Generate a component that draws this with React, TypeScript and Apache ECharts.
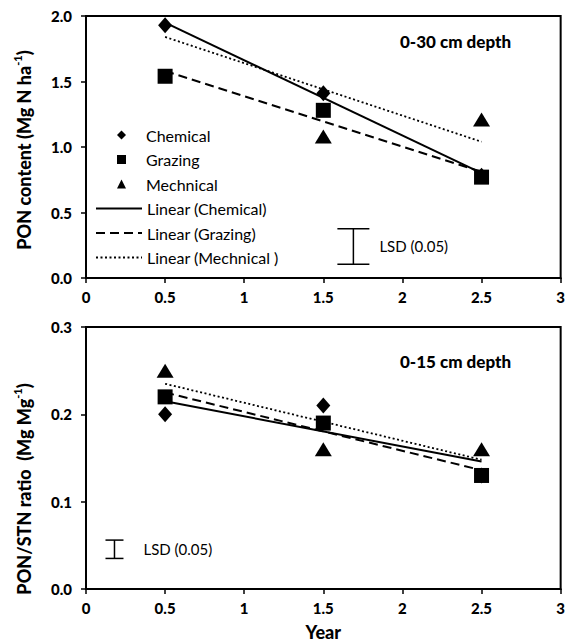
import React, { useEffect, useRef } from "react";
import * as echarts from "echarts";

// ---- data ----
const years = [0.5, 1.5, 2.5];
const trendYears = [0.5, 2.5];

// Top panel: PON content (Mg N ha-1), 0-30 cm depth
const ponChemical = [1.93, 1.41, 0.78];
const ponGrazing = [1.54, 1.28, 0.77];
const ponMechnical = [2.02, 1.08, 1.21]; // first point lies above the axis maximum
const ponTrendChemical = [1.95, 0.8];
const ponTrendGrazing = [1.58, 0.81];
const ponTrendMechnical = [1.84, 1.04];
const ponLsd = [1.69, 0.105, 0.376]; // x, low, high

// Bottom panel: PON/STN ratio (Mg Mg-1), 0-15 cm depth
const ratioChemical = [0.2, 0.21, 0.13];
const ratioGrazing = [0.22, 0.19, 0.13];
const ratioMechnical = [0.25, 0.16, 0.16];
const ratioTrendChemical = [0.215, 0.146];
const ratioTrendGrazing = [0.225, 0.136];
const ratioTrendMechnical = [0.235, 0.148];
const ratioLsd = [0.18, 0.035, 0.056];

const seriesNames = ["Chemical", "Grazing", "Mechnical"];
const trendNames = ["Linear (Chemical)", "Linear (Grazing)", "Linear (Mechnical )"];
const panelTitles = ["0-30 cm depth", "0-15 cm depth"];
const lsdLabel = "LSD (0.05)";

const FONT = "Lato, 'Open Sans', sans-serif";

const pairs = (xs: number[], ys: number[]) => xs.map((x, i) => [x, ys[i]]);

export default function App() {
  const ref = useRef<HTMLDivElement>(null);

  useEffect(() => {
    if (!ref.current) return;
    const chart = echarts.init(ref.current, null, { renderer: "svg" });

    const symbols = ["diamond", "rect", "triangle"];
    const symbolSizes: any[] = [[14, 16], 15, [17, 14]];
    const lineTypes: any[] = ["solid", [9, 5], [2, 2.5]];
    const lineWidths = [2, 2, 1.8];

    const scatter = (name: string, data: number[], idx: number, k: number) => ({
      type: "scatter",
      name,
      xAxisIndex: idx,
      yAxisIndex: idx,
      symbol: symbols[k],
      symbolSize: symbolSizes[k],
      itemStyle: { color: "#000", opacity: 1 },
      emphasis: { disabled: true },
      data: pairs(years, data),
      z: 3,
    });
    const trend = (name: string, data: number[], idx: number, k: number) => ({
      type: "line",
      name,
      xAxisIndex: idx,
      yAxisIndex: idx,
      symbol: "none",
      lineStyle: { color: "#000", width: lineWidths[k], type: lineTypes[k] },
      itemStyle: { color: "#000", opacity: 0 },
      emphasis: { disabled: true },
      data: pairs(trendYears, data),
      z: 2,
    });
    const lsd = (vals: number[], idx: number, capHalf: number, textOff: number) => ({
      type: "custom",
      name: "LSD",
      xAxisIndex: idx,
      yAxisIndex: idx,
      data: [vals],
      renderItem: (_p: any, api: any) => {
        const x = api.value(0);
        const lo = api.coord([x, api.value(1)]);
        const hi = api.coord([x, api.value(2)]);
        const st = { stroke: "#000", lineWidth: 1.5 };
        return {
          type: "group",
          children: [
            { type: "line", shape: { x1: lo[0], y1: lo[1], x2: hi[0], y2: hi[1] }, style: st },
            { type: "line", shape: { x1: lo[0] - capHalf, y1: lo[1], x2: lo[0] + capHalf, y2: lo[1] }, style: st },
            { type: "line", shape: { x1: hi[0] - capHalf, y1: hi[1], x2: hi[0] + capHalf, y2: hi[1] }, style: st },
            {
              type: "text",
              style: {
                text: lsdLabel,
                x: lo[0] + textOff,
                y: (lo[1] + hi[1]) / 2,
                align: "left",
                verticalAlign: "middle",
                fill: "#000",
                fontSize: 15,
                fontFamily: FONT,
              },
            },
          ],
        };
      },
    });

    const axisCommon = {
      axisLine: { show: true, onZero: false, lineStyle: { color: "#000", width: 2 } },
      axisTick: { show: true, inside: false, length: 5, lineStyle: { color: "#000", width: 1.5 } },
      splitLine: { show: false },
    };
    const xAxis = (idx: number) => ({
      type: "value",
      gridIndex: idx,
      min: 0,
      max: 3,
      interval: 0.5,
      ...axisCommon,
      axisLabel: { color: "#000", fontSize: 15, fontWeight: 900, fontFamily: FONT, margin: 11 },
      ...(idx === 1
        ? {
            name: "Year",
            nameLocation: "middle",
            nameGap: 34,
            nameTextStyle: { color: "#000", fontSize: 18, fontWeight: 900, fontFamily: FONT },
          }
        : {}),
    });
    const yAxis = (idx: number, max: number, interval: number) => ({
      type: "value",
      gridIndex: idx,
      min: 0,
      max,
      interval,
      ...axisCommon,
      axisLabel: {
        color: "#000",
        fontSize: 15,
        fontWeight: 900,
        fontFamily: FONT,
        margin: 14,
        formatter: (v: number) => v.toFixed(1),
      },
    });

    const richName = {
      b: { fontSize: 18, fontWeight: 900, fontFamily: FONT, fill: "#000", lineHeight: 24 },
      s: { fontSize: 11, fontWeight: 900, fontFamily: FONT, fill: "#000", verticalAlign: "top", lineHeight: 24 },
    };

    const legendText = { color: "#000", fontSize: 16, fontFamily: FONT, lineHeight: 16 };
    const rowGap = 8.5;

    const option: any = {
      animation: false,
      backgroundColor: "#fff",
      title: [
        { text: panelTitles[0], left: 400, top: 33, textStyle: { fontSize: 17, fontWeight: 900, fontFamily: FONT, color: "#000" }, padding: 0 },
        { text: panelTitles[1], left: 400, top: 353, textStyle: { fontSize: 17, fontWeight: 900, fontFamily: FONT, color: "#000" }, padding: 0 },
      ],
      legend: [
        {
          orient: "vertical",
          left: 117,
          top: 127,
          itemWidth: 9,
          itemHeight: 9,
          itemGap: rowGap,
          padding: 0,
          selectedMode: false,
          textStyle: { ...legendText, padding: [0, 0, 0, 15] },
          data: seriesNames,
        },
        {
          orient: "vertical",
          left: 95,
          top: 127 + 3 * (16 + rowGap),
          itemWidth: 46,
          itemHeight: 9,
          itemGap: rowGap,
          padding: 0,
          selectedMode: false,
          textStyle: legendText,
          data: trendNames,
        },
      ],
      grid: [
        { left: 86, right: 2, top: 16, height: 262, show: true, borderColor: "#000", borderWidth: 2, backgroundColor: "transparent" },
        { left: 86, right: 2, top: 327, height: 262, show: true, borderColor: "#000", borderWidth: 2, backgroundColor: "transparent" },
      ],
      xAxis: [xAxis(0), xAxis(1)],
      yAxis: [yAxis(0, 2, 0.5), yAxis(1, 0.3, 0.1)],
      graphic: [
        {
          type: "text",
          x: 24,
          y: 150,
          rotation: Math.PI / 2,
          style: {
            text: "{b|PON content (Mg N ha}{s|-1}{b|)}",
            rich: richName,
            align: "center",
            verticalAlign: "middle",
          },
        },
        {
          type: "text",
          x: 24,
          y: 489,
          rotation: Math.PI / 2,
          style: {
            text: "{b|PON/STN ratio  (Mg Mg}{s|-1}{b|)}",
            rich: richName,
            align: "center",
            verticalAlign: "middle",
          },
        },
      ],
      series: [
        trend(trendNames[0], ponTrendChemical, 0, 0),
        trend(trendNames[1], ponTrendGrazing, 0, 1),
        trend(trendNames[2], ponTrendMechnical, 0, 2),
        scatter(seriesNames[0], ponChemical, 0, 0),
        scatter(seriesNames[1], ponGrazing, 0, 1),
        scatter(seriesNames[2], ponMechnical, 0, 2),
        lsd(ponLsd, 0, 16, 26),
        trend(trendNames[0], ratioTrendChemical, 1, 0),
        trend(trendNames[1], ratioTrendGrazing, 1, 1),
        trend(trendNames[2], ratioTrendMechnical, 1, 2),
        scatter(seriesNames[0], ratioChemical, 1, 0),
        scatter(seriesNames[1], ratioGrazing, 1, 1),
        scatter(seriesNames[2], ratioMechnical, 1, 2),
        lsd(ratioLsd, 1, 9, 29),
      ],
    };

    chart.setOption(option);
    return () => chart.dispose();
  }, []);

  return (
    <div
      ref={ref}
      style={{ position: "absolute", left: 0, top: 0, width: 568, height: 642, background: "#fff" }}
    />
  );
}
